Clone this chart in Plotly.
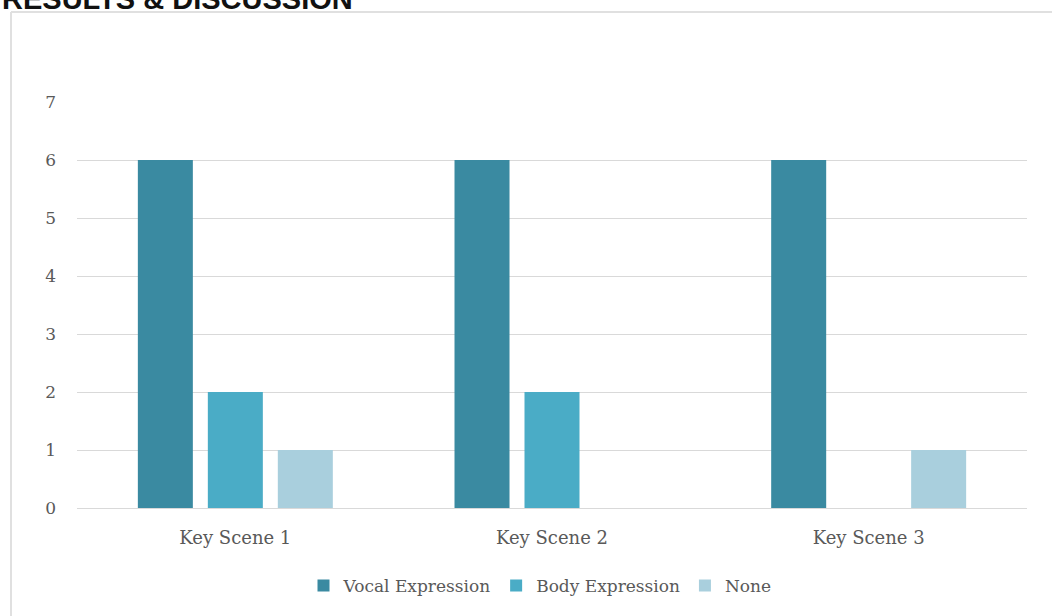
import plotly.graph_objects as go

categories = ["Key Scene 1", "Key Scene 2", "Key Scene 3"]
vocal = [6, 6, 6]
body = [2, 2, 0]
none = [1, 0, 1]
series_names = ["Vocal Expression", "Body Expression", "None"]
colors = ["#3A8AA1", "#4AACC6", "#A9CFDD"]

W, H = 1052, 616
L, R, T, B = 77, 25, 102, 108
pw, ph = W - L - R, H - T - B

fig = go.Figure()
for name, vals, c in zip(series_names, [vocal, body, none], colors):
    fig.add_trace(go.Bar(x=categories, y=vals, name=name, marker_color=c,
                         marker_line_width=0))

serif = "DejaVu Serif"
fig.update_layout(
    width=W, height=H,
    margin=dict(l=L, r=R, t=T, b=B, pad=0),
    paper_bgcolor="white", plot_bgcolor="white",
    barmode="group", bargap=0.337, bargroupgap=0.214,
    font=dict(family=serif, color="#595959"),
    xaxis=dict(showgrid=False, showline=True, linecolor="#d9d9d9", linewidth=1,
               ticks="", ticklabelstandoff=13,
               tickfont=dict(size=18, color="#595959", family=serif)),
    yaxis=dict(range=[0, 7], dtick=1, showgrid=True, gridcolor="#d9d9d9",
               gridwidth=1, zeroline=False, showline=False, ticks="",
               ticklabelstandoff=20,
               tickfont=dict(size=17, color="#595959", family=serif)),
    legend=dict(orientation="h", x=(540 - L) / pw, xanchor="center",
                y=(508 - 586) / ph, yanchor="middle",
                font=dict(size=17, color="#595959", family=serif),
                itemwidth=30, traceorder="normal"),
    showlegend=True,
)

# heading above the chart frame (clipped at the top, as in the reference)
fig.add_annotation(text="<b>RESULTS & DISCUSSION</b>", xref="paper", yref="paper",
                   x=(0 - L) / pw, xanchor="left",
                   y=1 + (T - 17) / ph, yanchor="bottom", showarrow=False,
                   font=dict(family="Liberation Sans", size=29, color="#111111"))

# chart frame (top and left border)
fx = (11 - L) / pw
fy = 1 + (T - 12) / ph
fig.add_shape(type="line", xref="paper", yref="paper", x0=fx, x1=(W - L) / pw,
              y0=fy, y1=fy, line=dict(color="#e0e0e0", width=2))
fig.add_shape(type="line", xref="paper", yref="paper", x0=fx, x1=fx,
              y0=fy, y1=-(B) / ph, line=dict(color="#e0e0e0", width=2))

fig.write_html("out.html")
